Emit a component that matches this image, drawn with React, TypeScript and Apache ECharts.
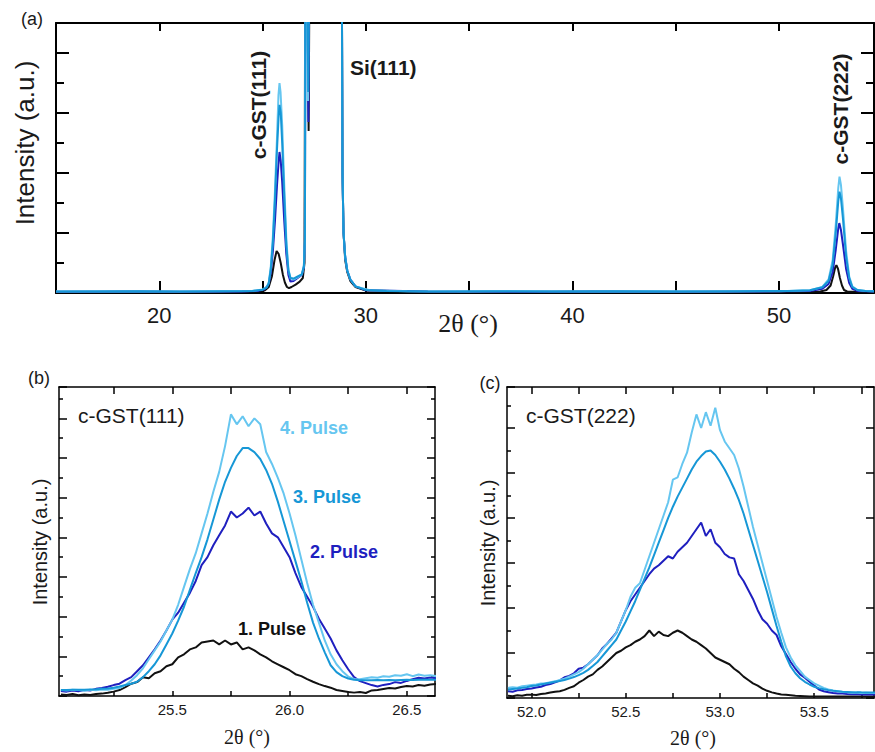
import React, { useEffect, useRef } from "react";
import * as echarts from "echarts";

// ---------- Panel (a): full scan, [2theta, intensity] ----------
const A_P1: number[][] = [[15,0.03],[18,0.04],[21,0.03],[24,0.04],[24.8,0.05],[25.1,0.08],[25.3,0.2],[25.45,0.55],[25.58,1.1],[25.68,1.4],[25.78,1.3],[25.88,1.0],[25.98,0.62],[26.08,0.35],[26.18,0.2],[26.28,0.16],[26.4,0.2],[26.6,0.28],[26.8,0.38],[26.95,0.5],[27.03,1.0],[27.07,12],[27.15,12],[27.23,5.4],[27.28,12],[28.83,12],[28.87,4],[28.92,2.0],[29.0,1.1],[29.1,0.7],[29.25,0.4],[29.5,0.2],[30,0.08],[33,0.04],[37,0.03],[41,0.04],[45,0.03],[49,0.04],[52.0,0.05],[52.3,0.1],[52.5,0.25],[52.62,0.55],[52.72,0.85],[52.78,0.93],[52.86,0.8],[52.95,0.5],[53.05,0.25],[53.15,0.1],[53.3,0.05],[54.6,0.04]];
const A_P2: number[][] = [[15,0.04],[18,0.05],[21,0.04],[24,0.05],[24.8,0.07],[25.1,0.12],[25.3,0.3],[25.4,0.7],[25.5,1.4],[25.6,2.4],[25.7,3.6],[25.78,4.4],[25.82,4.7],[25.88,4.4],[25.95,3.7],[26.05,2.4],[26.15,1.3],[26.25,0.6],[26.35,0.38],[26.5,0.4],[26.7,0.5],[26.9,0.6],[27.0,0.85],[27.05,1.7],[27.08,12],[27.15,12],[27.22,5.7],[27.27,12],[28.83,12],[28.87,4],[28.92,2.0],[29.0,1.2],[29.1,0.75],[29.25,0.45],[29.5,0.22],[30,0.09],[33,0.05],[37,0.04],[41,0.05],[45,0.04],[49,0.05],[51.5,0.07],[52.1,0.14],[52.4,0.3],[52.6,0.7],[52.75,1.45],[52.87,2.15],[52.92,2.33],[53.0,2.1],[53.1,1.6],[53.25,0.8],[53.4,0.33],[53.55,0.14],[53.8,0.07],[54.6,0.05]];
const A_P3: number[][] = [[15,0.05],[17,0.05],[19,0.06],[21,0.05],[23,0.06],[24.5,0.07],[25.0,0.11],[25.2,0.18],[25.3,0.32],[25.4,0.8],[25.5,1.7],[25.6,3.1],[25.7,4.8],[25.78,5.9],[25.82,6.27],[25.88,6.0],[25.95,5.0],[26.05,3.2],[26.15,1.6],[26.25,0.75],[26.35,0.5],[26.5,0.48],[26.7,0.55],[26.9,0.62],[27.0,0.9],[27.05,1.8],[27.08,12],[27.16,12],[27.21,6.7],[27.26,12],[28.83,12],[28.87,4],[28.92,2.0],[29.0,1.2],[29.1,0.75],[29.25,0.45],[29.5,0.22],[30,0.1],[31,0.07],[33,0.05],[36,0.06],[39,0.05],[42,0.06],[45,0.05],[48,0.06],[50.5,0.07],[51.5,0.09],[52.1,0.19],[52.4,0.4],[52.6,0.95],[52.75,2.0],[52.87,3.05],[52.93,3.38],[53.0,3.15],[53.1,2.45],[53.25,1.2],[53.4,0.5],[53.55,0.2],[53.8,0.1],[54.2,0.07],[54.6,0.06]];
const A_P4: number[][] = [[15,0.05],[17,0.06],[19,0.05],[21,0.05],[23,0.06],[24.5,0.07],[25.0,0.12],[25.2,0.2],[25.3,0.35],[25.4,0.9],[25.5,1.9],[25.6,3.4],[25.7,5.2],[25.77,6.6],[25.82,7.0],[25.87,6.7],[25.95,5.6],[26.05,3.6],[26.15,1.8],[26.25,0.8],[26.35,0.5],[26.5,0.45],[26.7,0.52],[26.9,0.62],[27.0,0.9],[27.05,1.8],[27.08,12],[27.15,12],[27.2,6.4],[27.25,12],[28.83,12],[28.87,4],[28.92,2.0],[29.0,1.2],[29.1,0.75],[29.25,0.45],[29.5,0.22],[30.2,0.09],[32,0.06],[35,0.05],[38,0.06],[41,0.05],[44,0.06],[47,0.05],[50,0.06],[51.5,0.09],[52.1,0.2],[52.4,0.45],[52.6,1.1],[52.75,2.3],[52.87,3.5],[52.93,3.88],[53.0,3.6],[53.1,2.8],[53.25,1.4],[53.4,0.55],[53.55,0.22],[53.8,0.1],[54.2,0.07],[54.6,0.06]];

// ---------- Panel (b): c-GST(111) ----------
const XB: number[] = [25.025,25.05,25.075,25.1,25.125,25.15,25.175,25.2,25.225,25.25,25.275,25.3,25.325,25.35,25.375,25.4,25.425,25.45,25.475,25.5,25.525,25.55,25.575,25.6,25.625,25.65,25.675,25.7,25.725,25.75,25.775,25.8,25.825,25.85,25.875,25.9,25.925,25.95,25.975,26.0,26.025,26.05,26.075,26.1,26.125,26.15,26.175,26.2,26.225,26.25,26.275,26.3,26.325,26.35,26.375,26.4,26.425,26.45,26.475,26.5,26.525,26.55,26.575,26.6,26.625];
const B_P1: number[] = [0.08,0.05,0.10,0.04,0.07,0.05,0.10,0.12,0.16,0.22,0.30,0.45,0.62,0.70,0.95,0.90,1.15,1.25,1.50,1.60,1.95,2.10,2.35,2.45,2.70,2.75,2.80,2.60,2.80,2.60,2.70,2.35,2.45,2.30,2.10,1.95,1.75,1.60,1.45,1.30,1.10,1.00,0.85,0.72,0.60,0.50,0.42,0.30,0.25,0.20,0.17,0.20,0.15,0.28,0.30,0.35,0.40,0.38,0.45,0.50,0.48,0.55,0.52,0.58,0.60];
const B_P2: number[] = [0.25,0.22,0.28,0.24,0.30,0.28,0.36,0.40,0.47,0.55,0.62,0.80,0.95,1.25,1.55,1.95,2.35,2.80,3.30,3.85,4.20,4.70,5.20,5.80,6.60,7.00,7.60,8.10,8.60,9.30,9.00,9.20,9.50,9.10,9.30,8.70,8.20,8.00,7.50,7.00,6.20,5.50,5.00,4.50,3.90,3.40,2.90,2.30,1.80,1.35,0.95,0.75,0.65,0.55,0.48,0.56,0.60,0.70,0.66,0.76,0.85,0.92,0.88,0.93,0.90];
const B_P3: number[] = [0.30,0.30,0.31,0.31,0.32,0.33,0.34,0.36,0.38,0.42,0.48,0.55,0.62,0.72,0.95,1.25,1.60,2.05,2.60,3.15,3.80,4.50,5.35,6.20,7.00,7.90,8.90,9.90,10.80,11.50,12.10,12.50,12.50,12.30,11.95,11.40,10.70,9.80,8.80,7.80,6.80,5.80,4.70,3.70,2.90,2.20,1.55,1.20,1.00,0.88,0.82,0.80,0.80,0.80,0.81,0.80,0.81,0.80,0.81,0.82,0.81,0.82,0.82,0.82,0.82];
const B_P4: number[] = [0.30,0.28,0.32,0.30,0.27,0.31,0.29,0.33,0.31,0.36,0.40,0.55,0.78,1.05,1.40,1.85,2.30,2.75,3.30,3.85,4.60,5.50,6.40,7.20,8.20,9.20,10.30,11.30,12.60,14.20,13.70,14.10,13.60,14.00,13.70,12.30,11.70,11.00,10.20,9.20,8.10,6.90,5.70,4.60,3.70,2.80,2.10,1.60,1.25,0.98,0.86,0.84,0.90,0.95,0.92,1.00,0.97,1.05,1.02,1.10,1.00,1.08,1.02,1.05,1.00];

// ---------- Panel (c): c-GST(222) ----------
const XC: number[] = [51.875,51.9,51.925,51.95,51.975,52.0,52.025,52.05,52.075,52.1,52.125,52.15,52.175,52.2,52.225,52.25,52.275,52.3,52.325,52.35,52.375,52.4,52.425,52.45,52.475,52.5,52.525,52.55,52.575,52.6,52.625,52.65,52.675,52.7,52.725,52.75,52.775,52.8,52.825,52.85,52.875,52.9,52.925,52.95,52.975,53.0,53.025,53.05,53.075,53.1,53.125,53.15,53.175,53.2,53.225,53.25,53.275,53.3,53.325,53.35,53.375,53.4,53.425,53.45,53.475,53.5,53.525,53.55,53.575,53.6,53.625,53.65,53.675,53.7,53.725,53.75,53.775,53.8,53.825];
const C_P1: number[] = [0.10,0.08,0.12,0.10,0.14,0.15,0.13,0.18,0.20,0.24,0.28,0.30,0.36,0.45,0.52,0.68,0.80,0.95,1.05,1.25,1.40,1.60,1.80,2.00,2.10,2.25,2.35,2.50,2.60,2.75,3.00,2.75,2.95,2.80,2.75,2.90,3.00,2.90,2.75,2.60,2.50,2.35,2.20,2.00,1.80,1.70,1.60,1.50,1.30,1.15,0.95,0.80,0.65,0.55,0.42,0.32,0.25,0.20,0.16,0.14,0.12,0.10,0.09,0.08,0.07,0.07,0.07,0.07,0.07,0.07,0.07,0.07,0.07,0.07,0.07,0.07,0.07,0.07,0.07];
const C_P2: number[] = [0.30,0.28,0.34,0.36,0.40,0.42,0.47,0.50,0.58,0.62,0.70,0.78,0.92,0.98,1.10,1.30,1.35,1.50,1.70,1.90,2.20,2.40,2.65,2.90,3.40,3.90,4.30,4.60,4.90,5.20,5.50,5.75,5.90,6.10,6.30,6.20,6.50,6.70,6.90,7.20,7.50,7.80,7.20,7.50,6.90,6.70,6.40,6.25,6.20,5.50,5.20,4.80,4.40,3.90,3.50,3.30,3.00,2.80,2.30,1.95,1.60,1.30,1.05,0.90,0.72,0.55,0.38,0.30,0.26,0.22,0.20,0.20,0.18,0.17,0.18,0.16,0.15,0.16,0.15];
const C_P3: number[] = [0.38,0.40,0.42,0.45,0.48,0.53,0.56,0.60,0.64,0.68,0.72,0.76,0.80,0.86,0.93,1.02,1.12,1.25,1.42,1.60,1.85,2.10,2.35,2.60,3.00,3.40,3.85,4.30,4.80,5.30,5.80,6.35,6.90,7.45,8.00,8.50,8.95,9.35,9.75,10.15,10.50,10.75,10.95,11.00,10.80,10.50,10.15,9.75,9.30,8.80,8.20,7.50,6.80,6.10,5.40,4.70,3.95,3.20,2.50,1.85,1.40,1.10,0.88,0.72,0.60,0.50,0.44,0.39,0.35,0.32,0.30,0.28,0.27,0.26,0.25,0.25,0.24,0.24,0.24];
const C_P4: number[] = [0.45,0.48,0.46,0.52,0.55,0.58,0.60,0.64,0.66,0.70,0.74,0.80,0.86,0.95,1.05,1.15,1.30,1.50,1.70,1.90,2.15,2.40,2.60,2.90,3.40,3.90,4.50,4.90,5.10,5.70,6.30,6.90,7.50,8.10,8.70,9.70,9.80,10.40,10.90,11.80,12.60,12.00,12.70,12.10,12.90,11.90,11.40,11.10,10.80,10.20,9.40,8.50,7.60,6.80,6.00,5.20,4.40,3.60,2.90,2.25,1.80,1.45,1.20,0.95,0.80,0.65,0.55,0.45,0.38,0.33,0.30,0.27,0.25,0.23,0.24,0.22,0.23,0.22,0.22];

// ---------- ticks ----------
const A_XTICKS = [20, 25, 30, 35, 40, 45, 50];
const A_XLABELS = [20, 30, 40, 50];
const B_XTICKS = [25.25, 25.5, 25.75, 26.0, 26.25, 26.5];
const B_XLABELS = [25.5, 26.0, 26.5];
const C_XTICKS = [52.0, 52.25, 52.5, 52.75, 53.0, 53.25, 53.5, 53.75];
const C_XLABELS = [52.0, 52.5, 53.0, 53.5];

const PULSES = ["1. Pulse", "2. Pulse", "3. Pulse", "4. Pulse"];
const COLORS = ["#111111", "#1f1fbf", "#1697d6", "#66c6f0"];

const SANS = '"Liberation Sans", Arial, sans-serif';
const SERIF = '"Liberation Serif", "Times New Roman", serif';

function zip(xs: number[], ys: number[]) {
  return xs.map((x, i) => [x, ys[i]]);
}

function xAxes(gi: number, min: number, max: number, ticks: number[], labels: number[], dec: number, o: any) {
  const line = { show: true, onZero: false, lineStyle: { color: "#000", width: o.lw } };
  return [
    {
      gridIndex: gi, type: "value", position: "bottom", min, max,
      axisLine: line,
      axisTick: { show: true, inside: true, length: o.tb, customValues: ticks, lineStyle: { color: "#000", width: o.lw } },
      axisLabel: { show: true, customValues: labels, formatter: (v: number) => v.toFixed(dec), fontSize: o.fs, fontFamily: SANS, color: "#1a1a1a", margin: o.margin },
      splitLine: { show: false },
    },
    {
      gridIndex: gi, type: "value", position: "top", min, max,
      axisLine: line,
      axisTick: { show: true, inside: true, length: o.tt, customValues: ticks, lineStyle: { color: "#000", width: o.lw } },
      axisLabel: { show: false },
      splitLine: { show: false },
    },
  ];
}

function yAxes(gi: number, max: number, o: any) {
  const mk = (pos: string, minor: boolean) => ({
    gridIndex: gi, type: "value", position: pos, min: 0, max, interval: 2,
    axisLine: { show: true, onZero: false, lineStyle: { color: "#000", width: o.lw } },
    axisTick: { show: true, inside: true, length: o.tl, lineStyle: { color: "#000", width: o.lw } },
    minorTick: { show: minor, splitNumber: 2, length: o.ts, lineStyle: { color: "#000", width: o.lw } },
    axisLabel: { show: false },
    splitLine: { show: false },
    minorSplitLine: { show: false },
  });
  return [mk("left", true), mk("right", o.rightMinor)];
}

function lines(gi: number, data: number[][][], width: number) {
  // draw order: black, dark blue, light blue, cyan (cyan on top)
  const order = [0, 1, 3, 2];
  return order.map((k) => ({
    type: "line",
    name: PULSES[k],
    xAxisIndex: gi * 2,
    yAxisIndex: gi * 2,
    data: data[k],
    showSymbol: false,
    symbol: "none",
    clip: true,
    lineStyle: { color: COLORS[k], width },
    itemStyle: { color: COLORS[k] },
    silent: true,
  }));
}

function txt(text: string, x: number, y: number, size: number, opts: any = {}) {
  return {
    type: "text",
    x, y,
    rotation: opts.rot ? Math.PI / 2 : 0,
    silent: true,
    style: {
      text,
      fill: opts.color || "#1a1a1a",
      fontSize: size,
      fontFamily: opts.family || SANS,
      fontWeight: opts.bold ? "bold" : "normal",
      textAlign: opts.align || "center",
      textVerticalAlign: "middle",
    },
  };
}

export default function App() {
  const ref = useRef<HTMLDivElement>(null);
  useEffect(() => {
    if (!ref.current) return;
    const chart = echarts.init(ref.current, null, { renderer: "svg" });
    const aStyle = { lw: 2, tb: 12, tt: 8, fs: 22, margin: 11 };
    const bStyle = { lw: 1.5, tb: 5, tt: 7, fs: 15, margin: 6 };
    const option: any = {
      animation: false,
      backgroundColor: "#ffffff",
      grid: [
        { left: 56, top: 23, width: 818, height: 270 },
        { left: 59, top: 387, width: 376, height: 309 },
        { left: 507, top: 387, width: 367, height: 311 },
      ],
      xAxis: [
        ...xAxes(0, 15, 54.6, A_XTICKS, A_XLABELS, 0, aStyle),
        ...xAxes(1, 25.017, 26.62, B_XTICKS, B_XLABELS, 1, bStyle),
        ...xAxes(2, 51.87, 53.817, C_XTICKS, C_XLABELS, 1, bStyle),
      ],
      yAxis: [
        ...yAxes(0, 9, { lw: 2, tl: 13, ts: 8, rightMinor: true }),
        ...yAxes(1, 15.58, { lw: 1.5, tl: 8, ts: 4, rightMinor: true }),
        ...yAxes(2, 13.82, { lw: 1.5, tl: 8, ts: 4, rightMinor: false }),
      ],
      series: [
        ...lines(0, [A_P1, A_P2, A_P3, A_P4], 2),
        ...lines(1, [zip(XB, B_P1), zip(XB, B_P2), zip(XB, B_P3), zip(XB, B_P4)], 2),
        ...lines(2, [zip(XC, C_P1), zip(XC, C_P2), zip(XC, C_P3), zip(XC, C_P4)], 2),
      ],
      graphic: [
        txt("(a)", 32, 19, 18),
        txt("(b)", 39, 378, 18),
        txt("(c)", 490, 383, 18),
        txt("Intensity (a.u.)", 25, 143, 26, { rot: true }),
        txt("2θ (°)", 468, 323, 26, { family: SERIF }),
        txt("c-GST(111)", 258, 105, 21, { rot: true, bold: true }),
        txt("Si(111)", 350, 67, 21, { bold: true, align: "left" }),
        txt("c-GST(222)", 840, 109, 21, { rot: true, bold: true }),
        txt("Intensity (a.u.)", 40, 542, 20, { rot: true }),
        txt("2θ (°)", 247, 737, 20, { family: SERIF }),
        txt("c-GST(111)", 78, 415, 21, { align: "left" }),
        txt(PULSES[3], 280, 428, 18, { bold: true, align: "left", color: COLORS[3] }),
        txt(PULSES[2], 293, 497, 18, { bold: true, align: "left", color: COLORS[2] }),
        txt(PULSES[1], 310, 552, 18, { bold: true, align: "left", color: COLORS[1] }),
        txt(PULSES[0], 238, 629, 18, { bold: true, align: "left", color: COLORS[0] }),
        txt("Intensity (a.u.)", 488, 543, 20, { rot: true }),
        txt("2θ (°)", 693, 738, 20, { family: SERIF }),
        txt("c-GST(222)", 526, 415, 21, { align: "left" }),
      ],
    };
    chart.setOption(option);
    return () => chart.dispose();
  }, []);
  return (
    <div
      ref={ref}
      style={{ position: "fixed", left: 0, top: 0, width: 875, height: 752, background: "#fff" }}
    />
  );
}
